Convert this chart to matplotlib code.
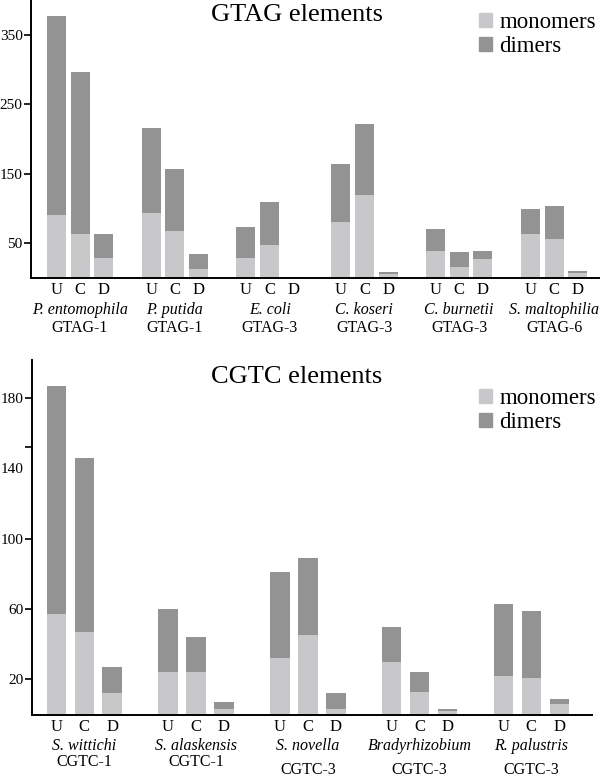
import matplotlib
matplotlib.use("Agg")
import matplotlib.pyplot as plt
from matplotlib.patches import Patch
import numpy as np

plt.rcParams['font.family'] = ['Liberation Serif', 'DejaVu Serif']

# --- data
bar_labels = ['U', 'C', 'D']

gtag_species = ['P. entomophila', 'P. putida', 'E. coli', 'C. koseri', 'C. burnetii', 'S. maltophilia']
gtag_types = ['GTAG-1', 'GTAG-1', 'GTAG-3', 'GTAG-3', 'GTAG-3', 'GTAG-6']
gtag_total = [[377, 297, 63], [216, 157, 34], [74, 109, 1.5], [164, 221, 9], [70, 37, 39], [100, 103, 10]]
gtag_mono = [[91, 63, 29], [93, 67, 13], [29, 48, 0], [80, 119, 6], [39, 16, 28], [63, 56, 7]]

cgtc_species = ['S. wittichi', 'S. alaskensis', 'S. novella', 'Bradyrhizobium', 'R. palustris']
cgtc_types = ['CGTC-1', 'CGTC-1', 'CGTC-3', 'CGTC-3', 'CGTC-3']
cgtc_total = [[187, 146, 27], [60, 44, 7], [81, 89, 12], [50, 24, 3], [63, 59, 9]]
cgtc_mono = [[57, 47, 12], [24, 24, 3], [32, 45, 3], [30, 13, 2], [22, 21, 6]]

light = '#c8c8ca'
dark = '#939393'

W, H = 600, 778
fig = plt.figure(figsize=(6, 7.78), dpi=100)

def px_axes(l, t, r, b):
    return fig.add_axes([l / W, 1 - b / H, (r - l) / W, (b - t) / H])

def draw_panel(ax, species, types, total, mono, width, xlim, ylim, type_offsets):
    total = np.array(total, dtype=float)
    mono = np.array(mono, dtype=float)
    x = np.array([[4 * i + j for j in range(3)] for i in range(len(species))])
    ax.bar(x.ravel(), mono.ravel(), width=width, color=light, linewidth=0)
    ax.bar(x.ravel(), (total - mono).ravel(), bottom=mono.ravel(), width=width, color=dark, linewidth=0)
    ax.set_xlim(*xlim)
    ax.set_ylim(*ylim)
    ax.set_xticks(x.ravel())
    ax.set_xticklabels(bar_labels * len(species), fontsize=12)
    ax.tick_params(axis='x', length=0, pad=3)
    ax.tick_params(axis='y', length=5, width=1.2, pad=1, labelsize=11, direction='out')
    for s in ['top', 'right']:
        ax.spines[s].set_visible(False)
    for s in ['left', 'bottom']:
        ax.spines[s].set_linewidth(1.4)
    for i, (sp, tp) in enumerate(zip(species, types)):
        ax.annotate(sp, xy=(4 * i + 1, 0), xycoords=('data', 'axes fraction'),
                    xytext=(0, -31.5 * 0.72), textcoords='offset points',
                    ha='center', va='center', fontsize=11.5, style='italic')
        ax.annotate(tp, xy=(4 * i + 1, 0), xycoords=('data', 'axes fraction'),
                    xytext=(0, -type_offsets[i] * 0.72), textcoords='offset points',
                    ha='center', va='center', fontsize=11.5)

# GTAG panel
ax1 = px_axes(31, 0, 600, 278)
draw_panel(ax1, gtag_species, gtag_types, gtag_total, gtag_mono, 0.8,
           (-1.07, 22.94), (0, 400), [49.5] * 6)
ax1.set_yticks([50, 150, 250, 350])

# CGTC panel
ax2 = px_axes(31.5, 360, 591.7, 714.5)
draw_panel(ax2, cgtc_species, cgtc_types, cgtc_total, cgtc_mono, 0.7,
           (-0.89, 19.16), (0, 201.6), [48, 48, 55.5, 55.5, 55.5])
ax2.set_yticks([20, 60, 100, 140, 180])
ax2.yaxis.get_major_ticks()[3].tick1line.set_visible(False)
ax2.set_yticks([152], minor=True)
ax2.tick_params(axis='y', which='minor', length=5, width=1.2, direction='out')

# titles
fig.text(297 / W, 1 - 15 / H, 'GTAG elements', ha='center', va='center', fontsize=19)
fig.text(297 / W, 1 - 377 / H, 'CGTC elements', ha='center', va='center', fontsize=19)

# legends
handles = [Patch(color=light, label='monomers'), Patch(color=dark, label='dimers')]
for ax, top in [(ax1, 12), (ax2, 388)]:
    ax.legend(handles=handles, loc='upper left', bbox_to_anchor=(479 / W, 1 - top / H),
              bbox_transform=fig.transFigure, frameon=False, fontsize=16.5,
              handlelength=0.55, handleheight=0.55, handletextpad=0.35,
              labelspacing=0.15, borderpad=0, borderaxespad=0)

fig.savefig('out.png', dpi=100)
